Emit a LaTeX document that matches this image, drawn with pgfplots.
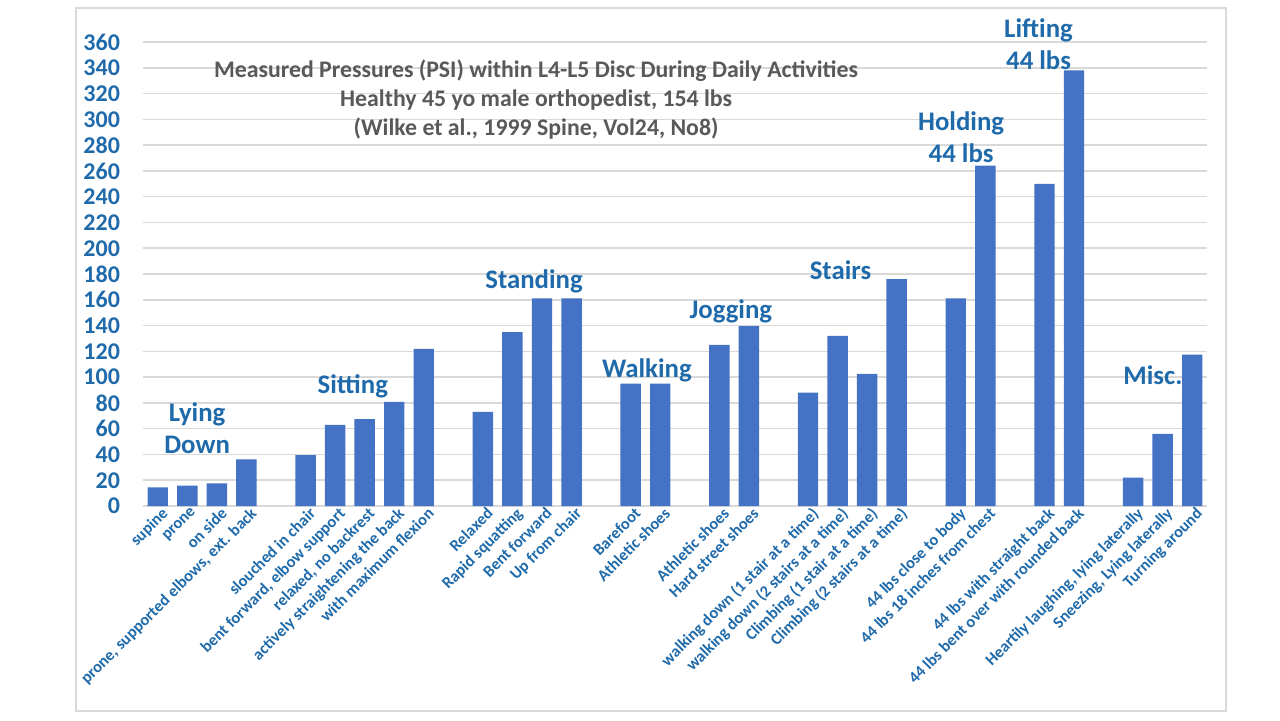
\documentclass[border=0pt]{standalone}
\usepackage{fontspec}
\setmainfont{Carlito}
\usepackage{pgfplots}
\usepackage{pgfplotstable}
\pgfplotsset{compat=1.18}
\definecolor{barblue}{RGB}{68,114,196}
\definecolor{lblblue}{RGB}{31,106,170}
\definecolor{titlegray}{RGB}{89,89,89}
\definecolor{gridgray}{RGB}{217,217,217}

\pgfplotstableread{
x y
0 14.5
1 15.8
2 17.5
3 36.2
5 39.5
6 63
7 67.5
8 80.7
9 122
11 73
12 135
13 161
14 161
16 95
17 95
19 125
20 139.5
22 88
23 132
24 102.5
25 176
27 161
28 264
30 250
31 338
33 22
34 56
35 117.5
}\data

\begin{document}
\begin{tikzpicture}
\path[use as bounding box] (-71.5pt,-107pt) rectangle (568.5pt,253pt);
\draw[gridgray, line width=0.75pt] (-33.5pt,-102.5pt) rectangle (541.5pt,249pt);
\begin{axis}[
  at={(0,0)}, anchor=south west,
  scale only axis, width=532pt, height=232pt,
  xmin=-0.5, xmax=35.5, ymin=0, ymax=360,
  ytick={0,20,...,360},
  ymajorgrids, grid style={gridgray, line width=0.75pt},
  axis line style={draw=none},
  major tick length=0pt,
  clip=false,
  ybar, bar width=0.69,
  /pgf/number format/assume math mode=true,
  xtick={0,1,2,3,5,6,7,8,9,11,12,13,14,16,17,19,20,22,23,24,25,27,28,30,31,33,34,35},
  xticklabels={supine,prone,on side,{prone, supported elbows, ext. back},
    slouched in chair,{bent forward, elbow support},{relaxed, no backrest},actively straightening the back,with maximum flexion,
    Relaxed,Rapid squatting,Bent forward,Up from chair,
    Barefoot,Athletic shoes,
    Athletic shoes,Hard street shoes,
    walking down (1 stair at a time),walking down (2 stairs at a time),Climbing (1 stair at a time),Climbing (2 stairs at a time),
    44 lbs close to body,44 lbs 18 inches from chest,
    44 lbs with straight back,44 lbs bent over with rounded back,
    {Heartily laughing, lying laterally},{Sneezing, Lying laterally},Turning around},
  xticklabel style={rotate=45, anchor=north east, inner sep=1pt, xshift=2pt, font=\fontsize{8.2}{9}\selectfont\bfseries, text=lblblue},
  yticklabel style={font=\fontsize{12}{14}\selectfont\bfseries, text=lblblue, xshift=-8pt},
]
\addplot[fill=barblue, draw=none] table[x=x,y=y]{\data};

\node[font=\fontsize{11.9}{14.5}\selectfont\bfseries, text=titlegray, align=center] at (axis cs:12.8,315)
  {Measured Pressures (PSI) within L4-L5 Disc During Daily Activities\\Healthy 45 yo male orthopedist, 154 lbs\\(Wilke et al., 1999 Spine, Vol24, No8)};

\tikzset{grp/.style={font=\fontsize{13.4}{16}\selectfont\bfseries, text=lblblue, align=center}}
\node[grp] at (axis cs:1.33,60.5) {Lying\\Down};
\node[grp] at (axis cs:6.6,93) {Sitting};
\node[grp] at (axis cs:12.73,174) {Standing};
\node[grp] at (axis cs:16.55,105.6) {Walking};
\node[grp] at (axis cs:19.39,151.4) {Jogging};
\node[grp] at (axis cs:23.1,183) {Stairs};
\node[grp] at (axis cs:27.18,286.5) {Holding\\44 lbs};
\node[grp] at (axis cs:29.8,358) {Lifting\\44 lbs};
\node[grp] at (axis cs:33.67,101.7) {Misc.};
\end{axis}
\end{tikzpicture}
\end{document}
